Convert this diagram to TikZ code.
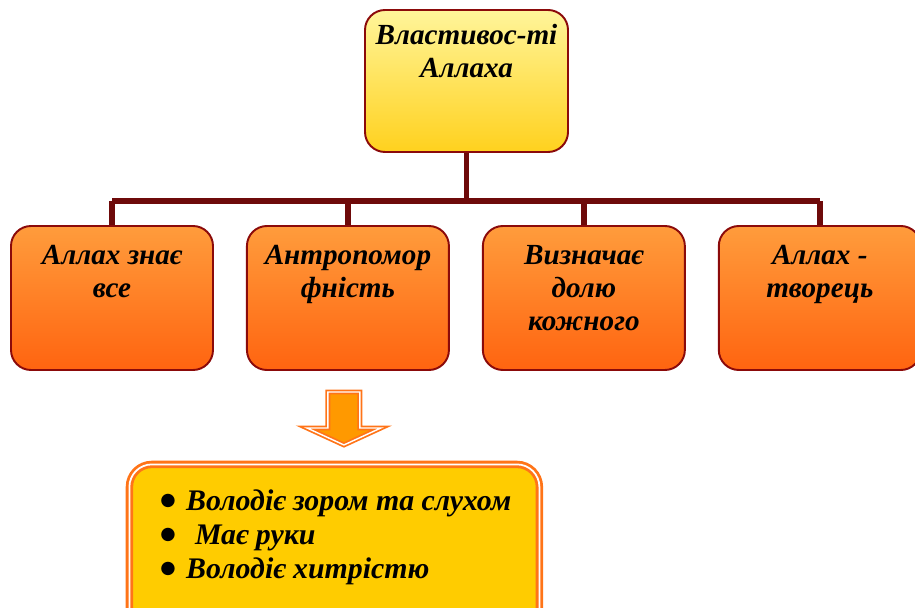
\documentclass[tikz,border=0pt]{standalone}
\usepackage{fontspec}
\setmainfont{Liberation Serif}
\newfontfamily\dotfont{DejaVu Sans}
\usetikzlibrary{positioning}

\definecolor{frame}{HTML}{8B0A0A}
\definecolor{stem}{HTML}{6E0A0A}
\definecolor{paleyellow}{HTML}{FFF59A}
\definecolor{deepyellow}{HTML}{FFD11E}
\definecolor{lightorange}{HTML}{FF9C3C}
\definecolor{deeporange}{HTML}{FF6410}
\definecolor{listfill}{HTML}{FFCC00}
\definecolor{listline}{HTML}{FF7418}
\definecolor{arrowfill}{HTML}{FF9900}

\newcommand{\dotmark}{\raisebox{2.6pt}{\dotfont\fontsize{10}{10}\selectfont ●}\hspace{6pt}}

\tikzset{
  topbox/.style = {draw=frame, line width=1.1pt, rounded corners=0.4cm,
    top color=paleyellow, bottom color=deepyellow,
    minimum width=4.06cm, minimum height=2.84cm},
  subbox/.style = {draw=frame, line width=1.1pt, rounded corners=0.4cm,
    top color=lightorange, bottom color=deeporange,
    minimum width=4.04cm, minimum height=2.88cm},
  lbl/.style = {inner sep=0pt, align=center,
    font=\fontsize{16.6}{18.8}\selectfont\bfseries\itshape},
  trunk/.style = {stem, line width=3.4pt},
  listbox/.style = {draw=listline, double=white, line width=1.6pt,
    double distance=1pt, rounded corners=0.45cm, fill=listfill,
    minimum width=8.2cm, minimum height=3.6cm},
  listtext/.style = {inner sep=0pt, align=left,
    font=\fontsize{17}{19.4}\selectfont\bfseries\itshape},
  bigarrow/.style = {fill=arrowfill, draw=listline, double=white,
    line width=1pt, double distance=0.8pt, line join=miter}
}

\begin{document}
\begin{tikzpicture}
  \useasboundingbox (0,0) rectangle (18.3,-12.16);

  % main node
  \node[topbox] (prop) at (9.33,-1.62) {};
  \node[lbl, below=0.3cm of prop.north] (propt) {Властивос-ті\\Аллаха};

  % properties
  \node[subbox] (s1) at (2.24,-5.96) {};
  \node[subbox, right=0.64cm of s1] (s2) {};
  \node[subbox, right=0.64cm of s2] (s3) {};
  \node[subbox, right=0.64cm of s3] (s4) {};

  \node[lbl, below=0.4cm of s1.north] (s1t) {Аллах знає\\все};
  \node[lbl, below=0.4cm of s2.north] (s2t) {Антропомор\\фність};
  \node[lbl, below=0.4cm of s3.north] (s3t) {Визначає\\долю\\кожного};
  \node[lbl, below=0.4cm of s4.north] (s4t) {Аллах -\\творець};

  % tree lines
  \draw[trunk] (prop.south) -- ++(0,-0.96) coordinate (hub);
  \draw[trunk] (s1.north |- hub) -- (s4.north |- hub);
  \foreach \s in {s1,s2,s3,s4}
    \draw[trunk] (\s.north |- hub) -- (\s.north);

  % arrow to the list
  \begin{scope}[shift={(s2.south)}, xshift=-0.08cm]
    \draw[bigarrow] (-0.32,-0.42) -- (0.32,-0.42) -- (0.32,-1.14) -- (0.74,-1.14)
      -- (0,-1.48) -- (-0.74,-1.14) -- (-0.32,-1.14) -- cycle;
  \end{scope}

  % list of features
  \node[listbox, anchor=north west] (list) at (2.56,-9.26) {};
  \node[listtext, below right=0.52cm and 0.64cm of list.north west] (items)
    {\dotmark Володіє зором та слухом\\
     \dotmark\hspace{5pt}Має руки\\
     \dotmark Володіє хитрістю};
\end{tikzpicture}
\end{document}
